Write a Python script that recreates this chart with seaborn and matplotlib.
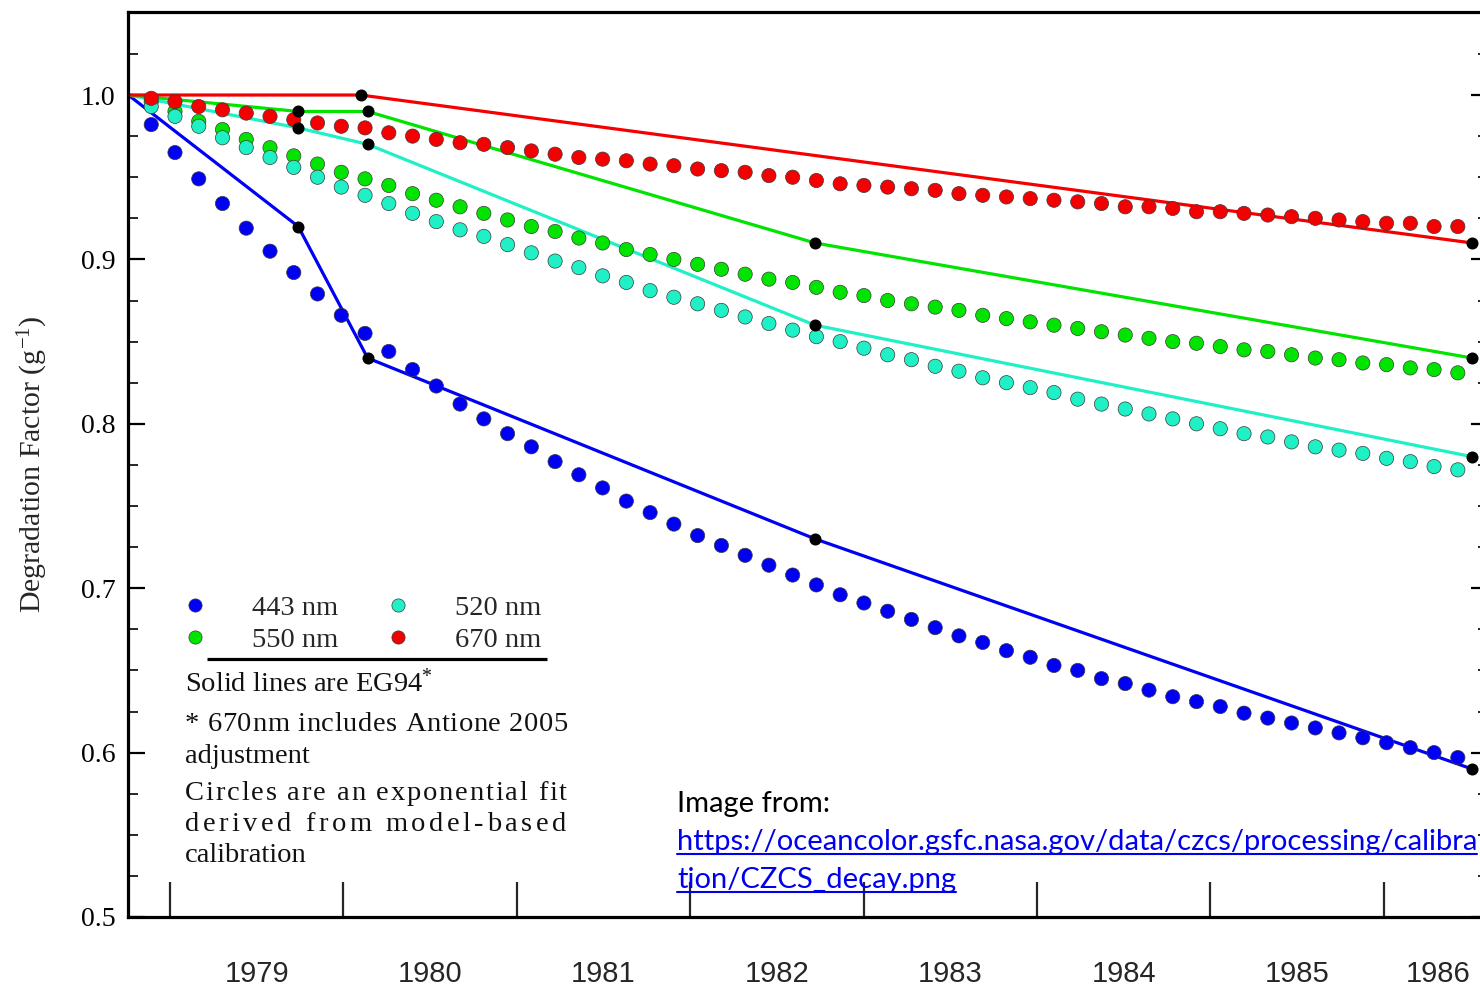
import numpy as np
import pandas as pd
import matplotlib
matplotlib.use("Agg")
import matplotlib.pyplot as plt
from matplotlib.lines import Line2D
from matplotlib.ticker import MultipleLocator
from matplotlib.font_manager import FontProperties, findfont, get_font
from matplotlib.ft2font import LOAD_NO_HINTING
import seaborn as sns

# ---------------------------------------------------------------------------
# Data
# ---------------------------------------------------------------------------
# Sample dates of the model-based exponential fit (decimal years)
fit_years = [
    1978.892, 1979.029, 1979.166, 1979.303, 1979.440, 1979.577, 1979.714, 1979.851,
    1979.988, 1980.125, 1980.262, 1980.399, 1980.536, 1980.673, 1980.810, 1980.947,
    1981.084, 1981.221, 1981.358, 1981.495, 1981.632, 1981.769, 1981.906, 1982.043,
    1982.180, 1982.317, 1982.454, 1982.591, 1982.728, 1982.865, 1983.002, 1983.139,
    1983.276, 1983.413, 1983.550, 1983.687, 1983.824, 1983.961, 1984.098, 1984.235,
    1984.372, 1984.509, 1984.646, 1984.783, 1984.920, 1985.057, 1985.194, 1985.331,
    1985.468, 1985.605, 1985.742, 1985.879, 1986.016, 1986.153, 1986.290, 1986.427,
]

fit_443 = [
    0.982, 0.965, 0.949, 0.934, 0.919, 0.905, 0.892, 0.879, 0.866, 0.855,
    0.844, 0.833, 0.823, 0.812, 0.803, 0.794, 0.786, 0.777, 0.769, 0.761,
    0.753, 0.746, 0.739, 0.732, 0.726, 0.720, 0.714, 0.708, 0.702, 0.696,
    0.691, 0.686, 0.681, 0.676, 0.671, 0.667, 0.662, 0.658, 0.653, 0.650,
    0.645, 0.642, 0.638, 0.634, 0.631, 0.628, 0.624, 0.621, 0.618, 0.615,
    0.612, 0.609, 0.606, 0.603, 0.600, 0.597,
]
fit_520 = [
    0.993, 0.987, 0.981, 0.974, 0.968, 0.962, 0.956, 0.950, 0.944, 0.939,
    0.934, 0.928, 0.923, 0.918, 0.914, 0.909, 0.904, 0.899, 0.895, 0.890,
    0.886, 0.881, 0.877, 0.873, 0.869, 0.865, 0.861, 0.857, 0.853, 0.850,
    0.846, 0.842, 0.839, 0.835, 0.832, 0.828, 0.825, 0.822, 0.819, 0.815,
    0.812, 0.809, 0.806, 0.803, 0.800, 0.797, 0.794, 0.792, 0.789, 0.786,
    0.784, 0.782, 0.779, 0.777, 0.774, 0.772,
]
fit_550 = [
    0.996, 0.990, 0.984, 0.979, 0.973, 0.968, 0.963, 0.958, 0.953, 0.949,
    0.945, 0.940, 0.936, 0.932, 0.928, 0.924, 0.920, 0.917, 0.913, 0.910,
    0.906, 0.903, 0.900, 0.897, 0.894, 0.891, 0.888, 0.886, 0.883, 0.880,
    0.878, 0.875, 0.873, 0.871, 0.869, 0.866, 0.864, 0.862, 0.860, 0.858,
    0.856, 0.854, 0.852, 0.850, 0.849, 0.847, 0.845, 0.844, 0.842, 0.840,
    0.839, 0.837, 0.836, 0.834, 0.833, 0.831,
]
fit_670 = [
    0.998, 0.996, 0.993, 0.991, 0.989, 0.987, 0.985, 0.983, 0.981, 0.980,
    0.977, 0.975, 0.973, 0.971, 0.970, 0.968, 0.966, 0.964, 0.962, 0.961,
    0.960, 0.958, 0.957, 0.955, 0.954, 0.953, 0.951, 0.950, 0.948, 0.946,
    0.945, 0.944, 0.943, 0.942, 0.940, 0.939, 0.938, 0.937, 0.936, 0.935,
    0.934, 0.932, 0.932, 0.931, 0.929, 0.929, 0.928, 0.927, 0.926, 0.925,
    0.924, 0.923, 0.922, 0.922, 0.920, 0.920,
]

# EG94 piecewise-linear degradation: vertex dates and factors
eg94_years = [1978.76, 1979.74, 1980.14, 1982.72, 1986.51]
eg94_443 = [1.00, 0.92, 0.84, 0.73, 0.59]
eg94_520 = [1.00, 0.98, 0.97, 0.86, 0.78]
eg94_550 = [1.00, 0.99, 0.99, 0.91, 0.84]
eg94_670_years = [1978.76, 1980.10, 1986.51]
eg94_670 = [1.00, 1.00, 0.91]

bands = ["443 nm", "520 nm", "550 nm", "670 nm"]
band_colors = {"443 nm": "#0000f5", "520 nm": "#1ff0c6",
               "550 nm": "#00e400", "670 nm": "#f50000"}
year_labels = ["1979", "1980", "1981", "1982", "1983", "1984", "1985", "1986"]
y_ticks = [0.5, 0.6, 0.7, 0.8, 0.9, 1.0]

# ---------------------------------------------------------------------------
# Long-form tables
# ---------------------------------------------------------------------------
fit_values = {"443 nm": fit_443, "520 nm": fit_520, "550 nm": fit_550, "670 nm": fit_670}
draw_order = ["443 nm", "550 nm", "520 nm", "670 nm"]
fit_df = pd.concat(
    [pd.DataFrame({"year": fit_years, "factor": fit_values[b], "band": b}) for b in draw_order],
    ignore_index=True,
)

eg_rows = []
for b, yrs, vals in [("443 nm", eg94_years, eg94_443), ("520 nm", eg94_years, eg94_520),
                     ("550 nm", eg94_years, eg94_550), ("670 nm", eg94_670_years, eg94_670)]:
    for i, (x, v) in enumerate(zip(yrs, vals)):
        eg_rows.append({"year": x, "factor": v, "band": b, "vertex": i > 0})
eg_df = pd.DataFrame(eg_rows)

# ---------------------------------------------------------------------------
# Figure
# ---------------------------------------------------------------------------
sns.set_style("white")
plt.rcParams["mathtext.default"] = "regular"
SERIF = ["Liberation Serif", "DejaVu Serif"]
SANS = ["Liberation Sans", "DejaVu Sans"]
plt.rcParams["font.family"] = SERIF

W, H = 1480, 986
fig = plt.figure(figsize=(W / 100, H / 100), dpi=100)
ax = fig.add_axes([128 / W, (H - 917) / H, (1488 - 128) / W, (917 - 12) / H])

x_min, x_max = 1978.758, 1986.601
ax.set_xlim(x_min, x_max)
ax.set_ylim(0.5, 1.0505)

# EG94 solid lines
sns.lineplot(data=eg_df, x="year", y="factor", hue="band", hue_order=bands,
             palette=band_colors, sort=False, estimator=None, linewidth=2.3,
             legend=False, ax=ax, zorder=2)

# exponential-fit circles
sns.scatterplot(data=fit_df, x="year", y="factor", hue="band", palette=band_colors,
                s=105, edgecolor="#3a3a3a", linewidth=0.5, legend=False, ax=ax, zorder=3)

# EG94 vertices
sns.scatterplot(data=eg_df[eg_df["vertex"]], x="year", y="factor", color="black",
                s=75, linewidth=0, legend=False, ax=ax, zorder=4)

# ---------------------------------------------------------------------------
# Axes styling
# ---------------------------------------------------------------------------
for side in ["left", "bottom", "top", "right"]:
    ax.spines[side].set_visible(True)
    ax.spines[side].set_linewidth(2.3)
    ax.spines[side].set_color("black")

ax.set_yticks(y_ticks)
ax.set_yticklabels([f"{t:.1f}" for t in y_ticks])
ax.yaxis.set_minor_locator(MultipleLocator(0.025))
ax.tick_params(axis="y", which="major", direction="in", length=12, width=1.6,
               left=True, right=True, labelsize=20, pad=9, colors="black")
ax.tick_params(axis="y", which="minor", direction="in", length=7, width=1.4,
               left=True, right=True)
for lab in ax.get_yticklabels():
    lab.set_fontfamily(SERIF)

# year boundaries carry the tall inward ticks, labels sit mid-year
year_starts = [int(y) for y in year_labels]
label_pos = [min(y + 0.5, x_max - 0.29) for y in year_starts]
ax.set_xticks(year_starts, minor=True)
ax.set_xticks(label_pos)
ax.set_xticklabels(year_labels)
ax.tick_params(axis="x", which="major", length=0, pad=31, labelsize=21)
ax.tick_params(axis="x", which="minor", direction="in", length=25, width=1.6,
               bottom=True, top=False)
for lab in ax.get_xticklabels():
    lab.set_fontfamily(SANS)

ax.set_xlabel("")
ax.set_ylabel("Degradation Factor (g$^{\\mathregular{-1}}$)", fontsize=21.5, family=SERIF)
ax.yaxis.set_label_coords(-0.057, 0.5)

# ---------------------------------------------------------------------------
# Legend block
# ---------------------------------------------------------------------------
def fx(px):
    return px / W


def fy(py):
    return 1 - py / H


handles = [Line2D([], [], marker="o", linestyle="", markersize=9.5,
                  markerfacecolor=band_colors[b], markeredgecolor="#3a3a3a",
                  markeredgewidth=0.5, label=b)
           for b in ["443 nm", "550 nm", "520 nm", "670 nm"]]
ax.legend(handles=handles, ncol=2, loc="upper left",
          bbox_to_anchor=(fx(181), fy(595)), bbox_transform=fig.transFigure,
          frameon=False, borderpad=0, borderaxespad=0, handlelength=1.0,
          handletextpad=1.48, columnspacing=1.62, labelspacing=0.2,
          prop={"family": SERIF, "size": 20.5})

fig.add_artist(Line2D([fx(207), fx(547)], [fy(659), fy(659)], color="black",
                      linewidth=2.3, solid_capstyle="butt"))

note_kw = dict(family=SERIF, size=20.5, color="#111111", va="baseline", ha="left")
fig.text(fx(185), fy(692), "Solid lines are EG94$^{*}$", **note_kw)
fig.text(fx(185), fy(763), "adjustment", **note_kw)


def spaced_line(x_px, base_px, s, target_px, size, family):
    """Write s between x_px and x_px+target_px with uniform letter spacing."""
    prop = FontProperties(family=family, size=size)
    font = get_font(findfont(prop))
    font.set_size(size, 100)
    adv = [font.load_char(ord(c), flags=LOAD_NO_HINTING).linearHoriAdvance / 65536
           for c in s]
    extra = (target_px - sum(adv)) / (len(s) - 1)
    x = x_px
    for c, a in zip(s, adv):
        if c != " ":
            fig.text(fx(x), fy(base_px), c, family=family, size=size,
                     color="#111111", va="baseline", ha="left")
        x += a + extra


spaced_line(185, 731, "* 670nm includes Antione 2005", 383, 20.5, SERIF)
spaced_line(185, 800, "Circles are an exponential fit", 382, 20.5, SERIF)
spaced_line(185, 831, "derived from model-based", 381, 20.5, SERIF)
fig.text(fx(185), fy(862), "calibration", **note_kw)

# ---------------------------------------------------------------------------
# Source note
# ---------------------------------------------------------------------------
src_kw = dict(family=["Lato", "DejaVu Sans"], size=21.0, va="baseline", ha="left")
fig.text(fx(677), fy(812), "Image from:", color="black", **src_kw)
link_lines = ["https://oceancolor.gsfc.nasa.gov/data/czcs/processing/calibra",
              "tion/CZCS_decay.png"]
link_texts = [fig.text(fx(677), fy(850 + 38 * i), s, color="#0000ee", **src_kw)
              for i, s in enumerate(link_lines)]
fig.canvas.draw()
renderer = fig.canvas.get_renderer()
for i, t in enumerate(link_texts):
    bb = t.get_window_extent(renderer)
    ul = fy(850 + 38 * i + 4)
    fig.add_artist(Line2D([bb.x0 / W, bb.x1 / W], [ul, ul], color="#0000ee",
                          linewidth=1.5))

fig.savefig("out.png", dpi=100, facecolor="white")
